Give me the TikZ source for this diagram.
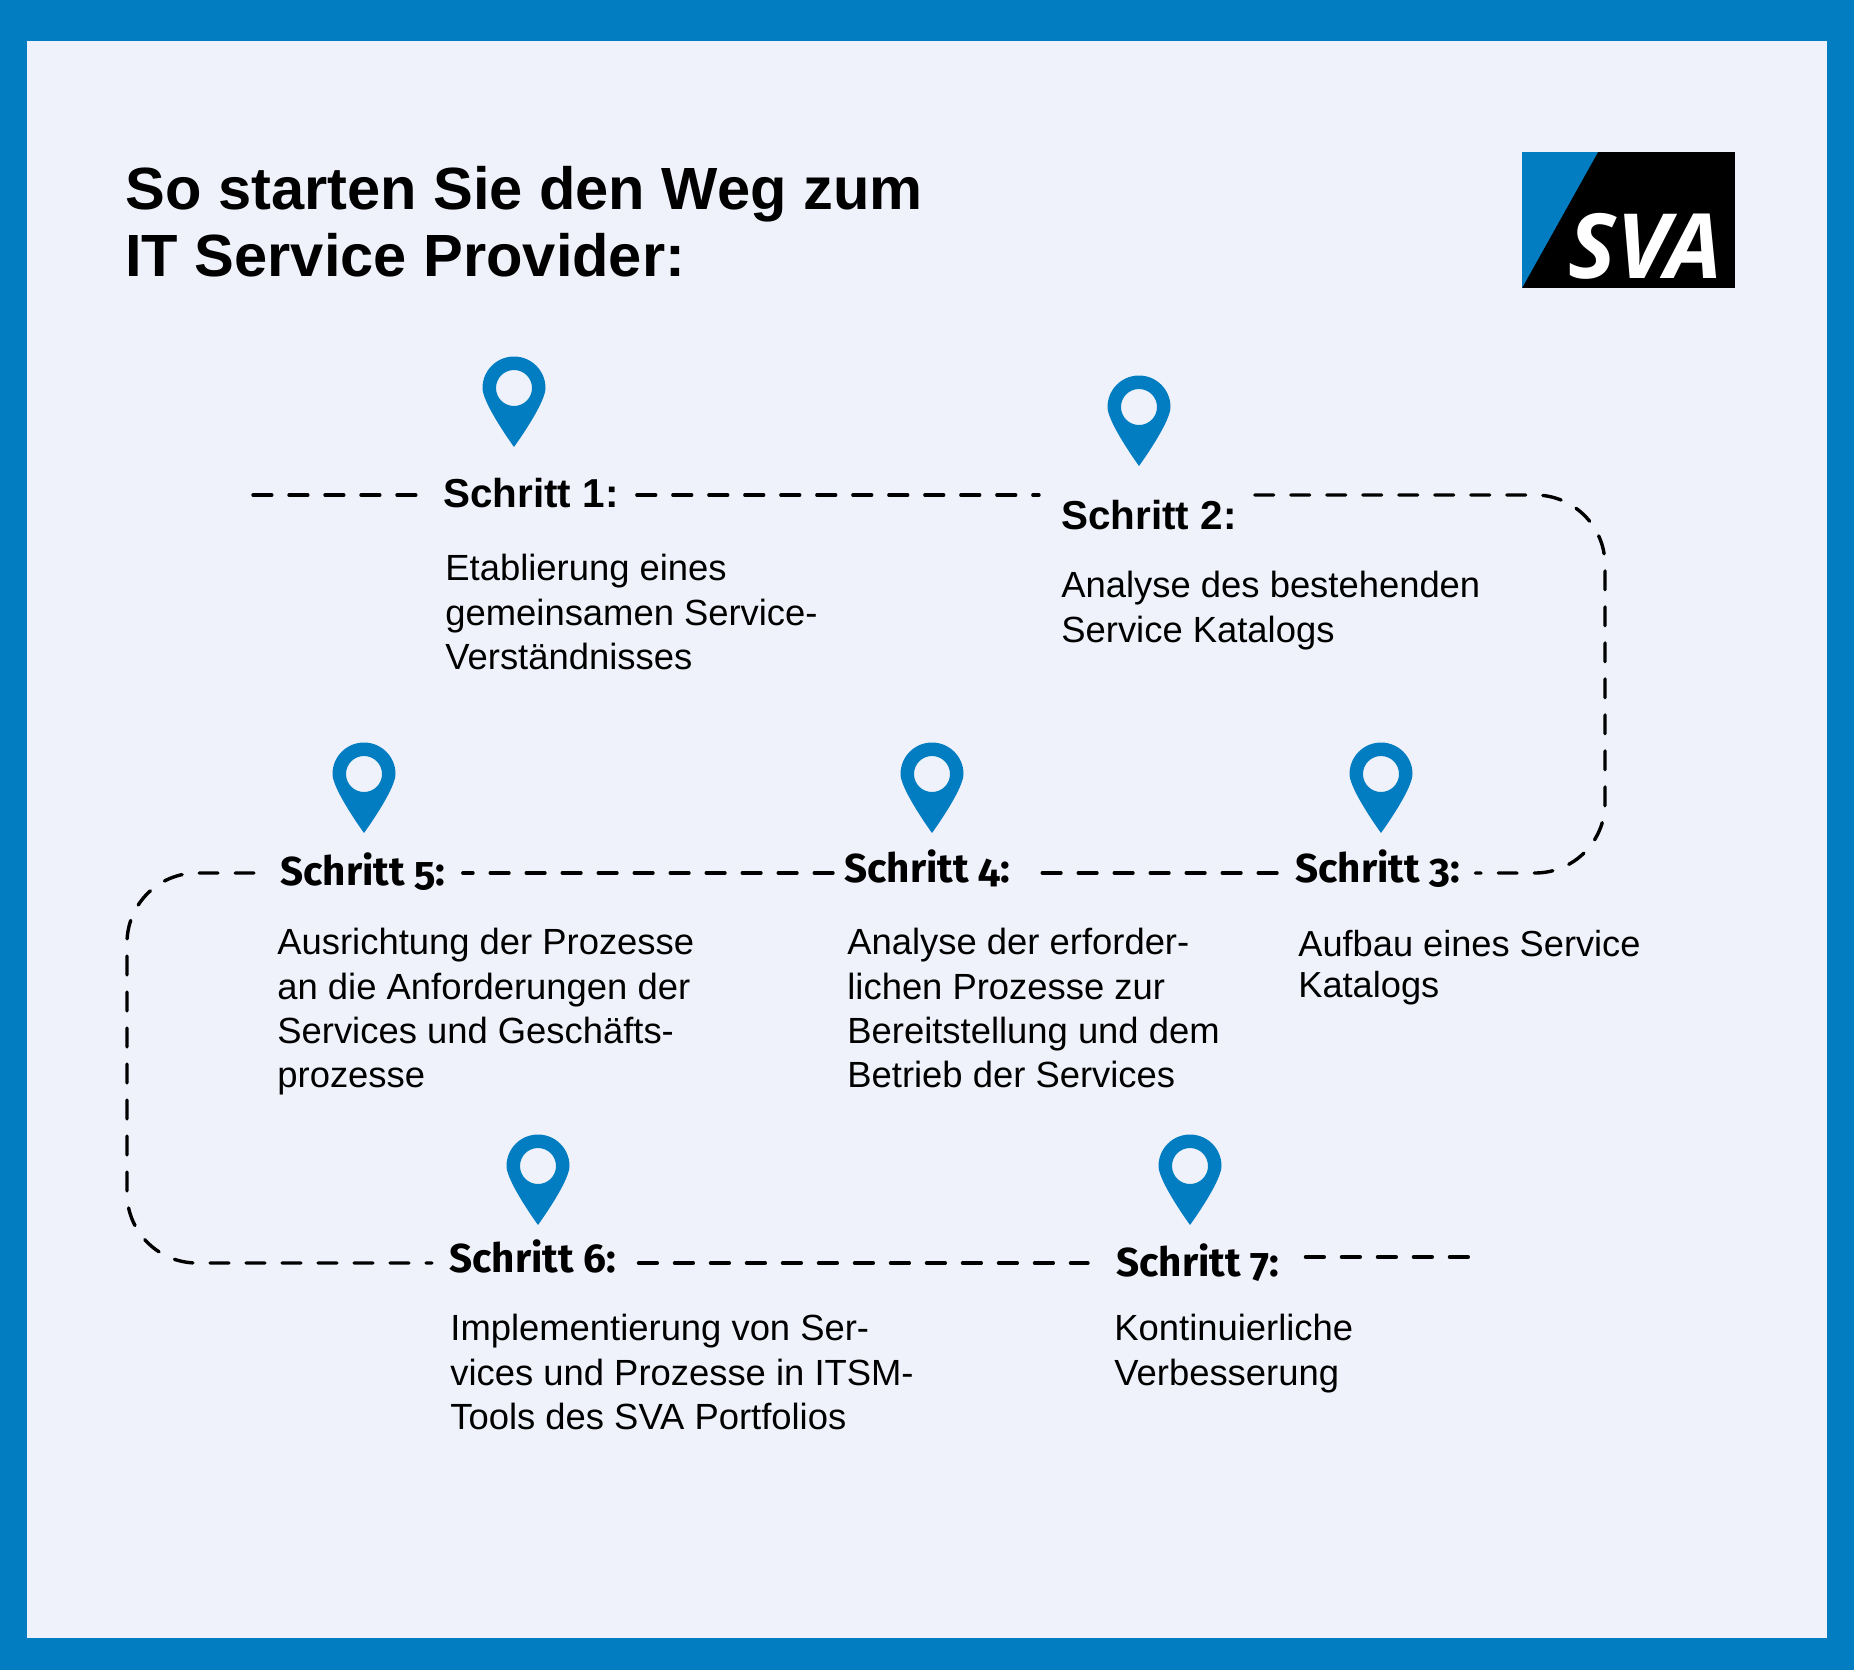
\documentclass[tikz,border=0pt]{standalone}
\usepackage{fontspec}
\setmainfont{Liberation Sans}
\newfontfamily\stepfont[Numbers=OldStyle]{Fira Sans}
\newfontfamily\logofont{Open Sans}
\usetikzlibrary{calc}
\definecolor{svablue}{RGB}{3,125,193}
\definecolor{svapaper}{RGB}{239,242,250}
\tikzset{
  pics/pin/.style={
    code={
      \fill[svablue,even odd rule] (0,0) .. controls (-10,-14) and (-31.5,-46) .. (-31.5,-59) arc(180:360:31.5) .. controls (31.5,-46) and (10,-14) .. (0,0) (0,-59) circle (18);
    }
  },
  route/.style={line width=1.7pt, line cap=round, dash pattern=on 9.4pt off 8.6pt, rounded corners=35pt},
  labelA/.style={anchor=base west, inner sep=0pt, font=\fontsize{20.2}{24}\selectfont\bfseries},
  labelB/.style={anchor=base west, inner sep=0pt, font=\fontsize{20.2}{24}\stepfont\bfseries},
  body/.style={anchor=north west, inner sep=0pt, align=left, font=\fontsize{18.2}{22.2}\selectfont}
}

\begin{document}
\begin{tikzpicture}[x=0.5pt, y=-0.5pt]
\useasboundingbox (0,0) rectangle (1854,1670);

% frame
\fill[svablue] (0,0) rectangle (1854,1670);
\fill[svapaper] (27,41) rectangle (1827,1638);

% title
\node[anchor=north west, inner sep=0pt, align=left, font=\fontsize{29.8}{33.5}\selectfont\bfseries] (TITLE) at (125,166) {So starten Sie den Weg zum\\IT Service Provider:};

% logo
\fill[black] (1522,152) rectangle (1735,288);
\fill[svablue] (1522,152) -- (1598,152) -- (1522,288) -- cycle;
\node[anchor=base west, inner sep=0pt, text=white, font=\fontsize{45}{45}\logofont\bfseries\itshape] (LOGO) at (1568,278) {SVA};

% route rows
\coordinate (ROWA) at (0,495);
\coordinate (ROWB) at (0,873);
\coordinate (ROWC) at (0,1263);
\coordinate (ROWD) at (0,1257);
\coordinate (BEGIN) at (253,495);
\coordinate (END) at (1478,1257);
\coordinate (RIGHT) at (1605,0);
\coordinate (LEFT) at (127,0);

% pins
\pic at (514,447) {pin};
\pic at (1139,466) {pin};
\pic at (1381,833) {pin};
\pic at (932,833) {pin};
\pic at (364,833) {pin};
\pic at (538,1225) {pin};
\pic at (1190,1225) {pin};

% step labels
\node[labelA] (S1) at (443,507) {Schritt 1:};
\node[labelA] (S2) at (1061,529) {Schritt 2:};
\node[labelB] (S3) at (1295,882) {Schritt 3:};
\node[labelB] (S4) at (844,882) {Schritt 4:};
\node[labelB] (S5) at (280,885) {Schritt 5:};
\node[labelB] (S6) at (449,1272) {Schritt 6:};
\node[labelB] (S7) at (1116,1276) {Schritt 7:};

% texts
\node[body] (D1) at (445,554) {Etablierung eines\\gemeinsamen Service-\\Verständnisses};
\node[body] (D2) at (1061,571) {Analyse des bestehenden\\Service Katalogs};
\node[body, font=\fontsize{18.1}{20.2}\selectfont] (D3) at (1298,930) {Aufbau eines Service\\Katalogs};
\node[body] (D4) at (847,928) {Analyse der erforder-\\lichen Prozesse zur\\Bereitstellung und dem\\Betrieb der Services};
\node[body] (D5) at (277,928) {Ausrichtung der Prozesse\\an die Anforderungen der\\Services und Geschäfts-\\prozesse};
\node[body] (D6) at (450,1314) {Implementierung von Ser-\\vices und Prozesse in ITSM-\\Tools des SVA Portfolios};
\node[body] (D7) at (1114,1314) {Kontinuierliche\\Verbesserung};

% route
\draw[route] (BEGIN) -- ($ (S1.west |- ROWA) - (14,0) $);
\draw[route] ($ (S1.east |- ROWA) + (18,0) $) -- ($ (S2.west |- ROWA) - (22,0) $);
\draw[route] ($ (S2.east |- ROWA) + (18,0) $) -- (RIGHT |- ROWA) -- (RIGHT |- ROWB) -- ($ (S3.east |- ROWB) + (15,0) $);
\draw[route] ($ (S3.west |- ROWB) - (18,0) $) -- ($ (S4.east |- ROWB) + (18,0) $);
\draw[route] ($ (S4.west |- ROWB) - (11,0) $) -- ($ (S5.east |- ROWB) + (17,0) $);
\draw[route] ($ (S5.west |- ROWB) - (26,0) $) -- (LEFT |- ROWB) -- (LEFT |- ROWC) -- ($ (S6.west |- ROWC) - (17,0) $);
\draw[route] ($ (S6.east |- ROWC) + (22,0) $) -- ($ (S7.west |- ROWC) - (28,0) $);
\draw[route] ($ (S7.east |- ROWD) + (26,0) $) -- (END);
\end{tikzpicture}
\end{document}
